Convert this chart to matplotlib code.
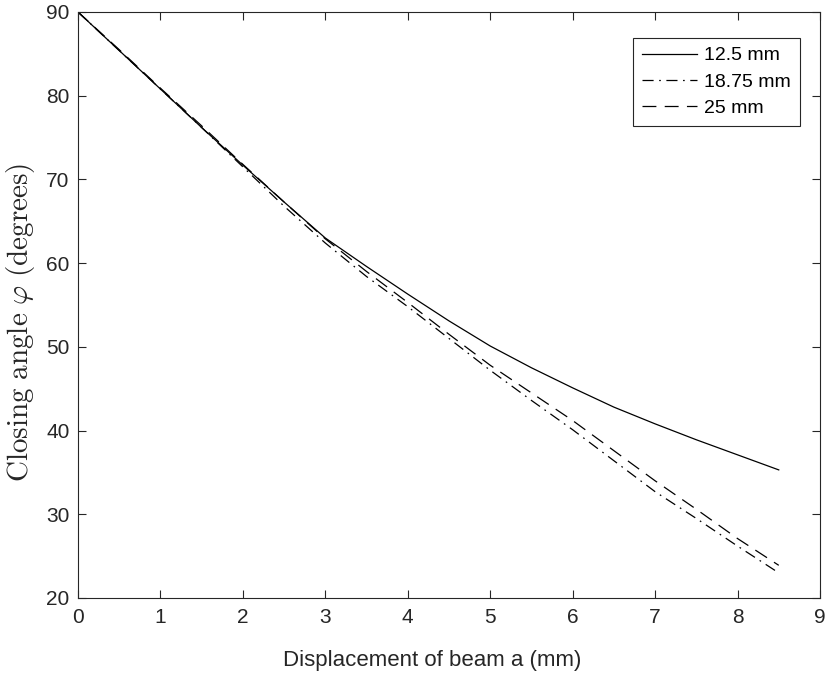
import matplotlib
matplotlib.use('Agg')
import matplotlib.pyplot as plt

# Données
displacement = [0, 0.5, 1, 1.5, 2, 2.5, 3, 3.5, 4, 4.5, 5, 5.5, 6, 6.5, 7, 7.5, 8, 8.5]
angle_12_5 = [90.0, 85.4, 80.8, 76.2, 71.7, 67.3, 63.0, 59.6, 56.3, 53.1, 50.1, 47.5, 45.1, 42.8, 40.8, 38.9, 37.1, 35.3]
angle_18_75 = [90.0, 85.4, 80.8, 76.2, 71.5, 66.8, 62.4, 58.4, 54.8, 51.0, 47.2, 43.6, 40.1, 36.4, 32.7, 29.5, 26.2, 23.0]
angle_25 = [90.0, 85.5, 80.9, 76.4, 71.8, 67.3, 62.9, 59.0, 55.3, 51.5, 47.8, 44.5, 41.2, 37.6, 34.0, 30.6, 27.1, 23.9]
labels = ['12.5 mm', '18.75 mm', '25 mm']

plt.rcParams['font.family'] = ['Liberation Sans', 'DejaVu Sans']
plt.rcParams['mathtext.fontset'] = 'cm'
plt.rcParams['lines.scale_dashes'] = False

axis_color = '#262626'

fig = plt.figure(figsize=(8.27, 6.74), dpi=100)
ax = fig.add_axes([0.0943, 0.1128, 0.8972, 0.8694])

ax.plot(displacement, angle_12_5, color='black', lw=0.9, linestyle='-', label=labels[0])
ax.plot(displacement, angle_18_75, color='black', lw=0.9, linestyle=(0, (8, 4, 1.2, 4)), label=labels[1])
ax.plot(displacement, angle_25, color='black', lw=0.9, linestyle=(0, (10, 6)), label=labels[2])

ax.set_xlim(0, 9)
ax.set_ylim(20, 90)
ax.set_xticks(range(0, 10))
ax.set_yticks(range(20, 91, 10))

ax.tick_params(direction='in', top=True, right=True, length=6, width=0.8,
               colors=axis_color, labelsize=15)
ax.tick_params(axis='x', pad=7)
ax.tick_params(axis='y', pad=6)
for spine in ax.spines.values():
    spine.set_color(axis_color)
    spine.set_linewidth(0.8)

ax.set_xlabel('Displacement of beam a (mm)', fontsize=16, color=axis_color)
ax.xaxis.set_label_coords(0.477, -0.088)
ax.set_ylabel(r'$\mathrm{Closing\ angle}\ \varphi\ \mathrm{(degrees)}$', fontsize=21, color=axis_color)
ax.yaxis.set_label_coords(-0.055, 0.47)

leg = ax.legend(loc='upper right', bbox_to_anchor=(0.973, 0.9556), fontsize=14,
                handlelength=2.8, handletextpad=0.4, fancybox=False, borderaxespad=0,
                framealpha=1, edgecolor=axis_color, labelspacing=0.45, borderpad=0.45)
leg.get_frame().set_linewidth(0.8)

fig.savefig('out.png', dpi=100)
